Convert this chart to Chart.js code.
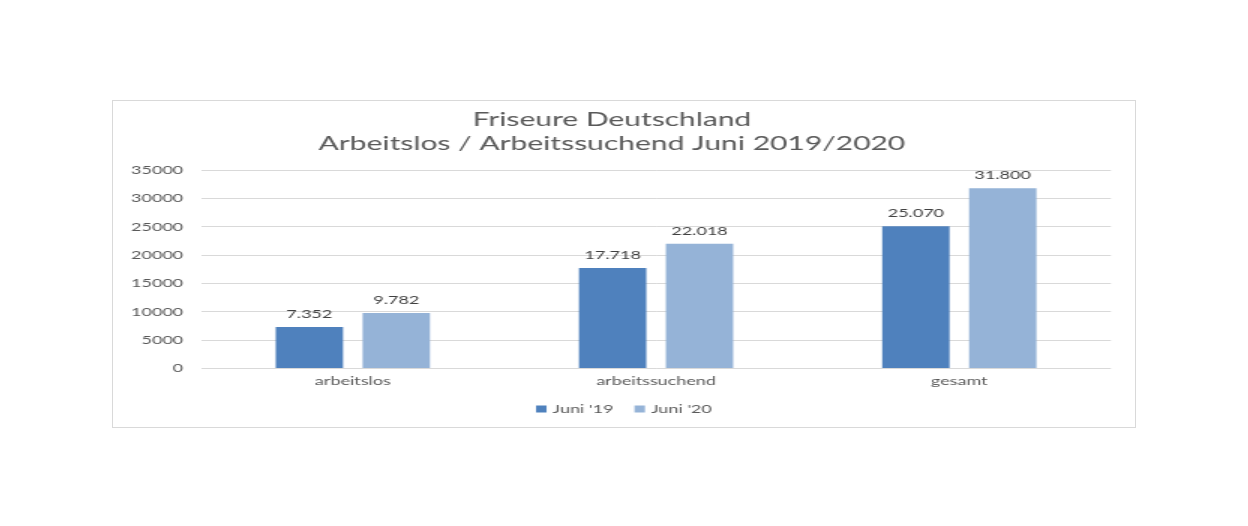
<!DOCTYPE html>
<html><head><meta charset="utf-8">
<script src="https://cdn.jsdelivr.net/npm/chart.js@4.4.1/dist/chart.umd.min.js"></script>
<style>
html,body{margin:0;padding:0;background:#fff;width:1248px;height:526px;overflow:hidden;}
#frame{position:absolute;left:112px;top:100px;width:1022px;height:326px;border:1px solid #d9d9d9;overflow:hidden;background:#fff;}
#inner{position:absolute;left:0;top:0;width:681.33px;height:326px;transform:scaleX(1.5);transform-origin:0 0;}
</style></head>
<body>
<div id="frame"><div id="inner"><canvas id="c"></canvas></div></div>
<script>
const categories = ['arbeitslos', 'arbeitssuchend', 'gesamt'];
const seriesNames = ["Juni '19", "Juni '20"];
const juni19 = [7352, 17718, 25070];
const juni20 = [9782, 22018, 31800];
const yMin = 0, yMax = 35000, yStep = 5000;
const titleLines = ['Friseure Deutschland', 'Arbeitslos / Arbeitssuchend Juni 2019/2020'];

const FONT = 'Lato, "Open Sans", sans-serif';
const TXT = '#595959';
const LEGEND_GAP = 14;

function fmtDE(v) { return String(v).replace(/\B(?=(\d{3})+(?!\d))/g, '.'); }

const valueLabels = {
  id: 'valueLabels',
  afterDatasetsDraw(chart) {
    const ctx = chart.ctx;
    ctx.save();
    ctx.font = '12px ' + FONT;
    ctx.fillStyle = '#404040';
    ctx.textAlign = 'center';
    ctx.textBaseline = 'bottom';
    chart.data.datasets.forEach((ds, i) => {
      const meta = chart.getDatasetMeta(i);
      meta.data.forEach((el, j) => {
        ctx.fillText(fmtDE(ds.data[j]), el.x, el.y - 7);
      });
    });
    ctx.restore();
  }
};

// custom bottom legend so the horizontal item gap can differ from its vertical padding
const bottomLegend = {
  id: 'bottomLegend',
  afterDraw(chart) {
    const ctx = chart.ctx;
    ctx.save();
    ctx.font = '12px ' + FONT;
    ctx.textBaseline = 'middle';
    const box = 7, gapText = 4;
    const items = chart.data.datasets.map(ds => ({
      text: ds.label, color: ds.backgroundColor, w: box + gapText + ctx.measureText(ds.label).width
    }));
    const total = items.reduce((s, it) => s + it.w, 0) + LEGEND_GAP * (items.length - 1);
    let x = chart.width / 2 - total / 2;
    const y = chart.height - 18;
    items.forEach(it => {
      ctx.fillStyle = it.color;
      ctx.fillRect(x, y - box / 2, box, box);
      ctx.fillStyle = TXT;
      ctx.textAlign = 'left';
      ctx.fillText(it.text, x + box + gapText, y);
      x += it.w + LEGEND_GAP;
    });
    ctx.restore();
  }
};

new Chart(document.getElementById('c'), {
  type: 'bar',
  data: {
    labels: categories,
    datasets: [
      { label: seriesNames[0], data: juni19, backgroundColor: '#4f81bd' },
      { label: seriesNames[1], data: juni20, backgroundColor: '#95b3d7' }
    ]
  },
  options: {
    responsive: true,
    maintainAspectRatio: false,
    animation: false,
    layout: { padding: { left: 0, right: 16, top: 0, bottom: 34 } },
    datasets: { bar: { categoryPercentage: 0.573, barPercentage: 0.775 } },
    plugins: {
      title: {
        display: true,
        text: titleLines,
        color: TXT,
        font: { family: FONT, size: 20, weight: 'normal', lineHeight: 1.2 },
        padding: { top: 7, bottom: 14 }
      },
      legend: { display: false },
      tooltip: { enabled: false }
    },
    scales: {
      x: {
        grid: { display: false, drawTicks: false },
        border: { display: false },
        ticks: { color: TXT, font: { family: FONT, size: 12 }, padding: 5 }
      },
      y: {
        min: yMin, max: yMax,
        grid: { color: '#d9d9d9', drawTicks: false },
        border: { display: false },
        ticks: {
          stepSize: yStep,
          color: TXT,
          font: { family: FONT, size: 12 },
          padding: 12,
          callback: v => String(v)
        }
      }
    }
  },
  plugins: [valueLabels, bottomLegend]
});
</script>
</body></html>
